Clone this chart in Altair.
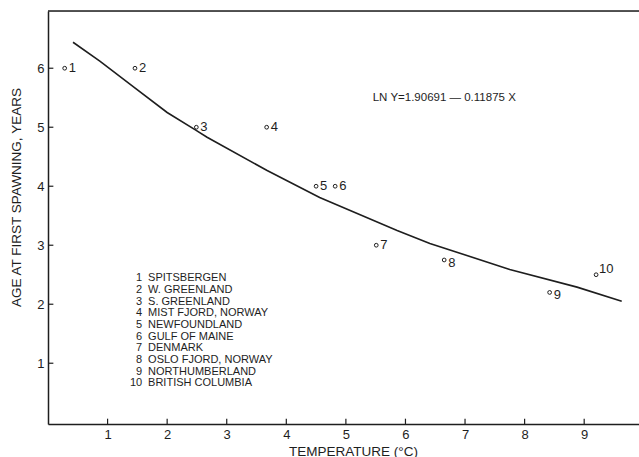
import altair as alt
import pandas as pd

# Sampling sites: number, name, mean temperature (°C), age at first spawning (years)
site_num = [1, 2, 3, 4, 5, 6, 7, 8, 9, 10]
site_name = [
    "SPITSBERGEN", "W. GREENLAND", "S. GREENLAND", "MIST FJORD, NORWAY",
    "NEWFOUNDLAND", "GULF OF MAINE", "DENMARK", "OSLO FJORD, NORWAY",
    "NORTHUMBERLAND", "BRITISH COLUMBIA",
]
temp = [0.28, 1.46, 2.49, 3.67, 4.50, 4.82, 5.51, 6.65, 8.42, 9.20]
age = [6.0, 6.0, 5.0, 5.0, 4.0, 4.0, 3.0, 2.75, 2.2, 2.5]

# Fitted curve, traced along its length
curve_x = [0.42, 0.87, 1.43, 2.0, 2.48, 2.67, 3.67, 4.56, 5.86, 6.41, 7.75, 8.88, 9.63]
curve_y = [6.44, 6.12, 5.69, 5.25, 4.95, 4.83, 4.27, 3.81, 3.25, 3.03, 2.59, 2.29, 2.05]

x_ticks = [1, 2, 3, 4, 5, 6, 7, 8, 9]
y_ticks = [1, 2, 3, 4, 5, 6]

equation = "LN Y=1.90691 \u2014 0.11875 X"

FONT = "Liberation Sans"
INK = "#1e1e1e"
Y0, Y1 = -0.03, 6.97

pts = pd.DataFrame({"num": site_num, "name": site_name, "temp": temp, "age": age})
pts["num_s"] = pts["num"].astype(str)
curve = pd.DataFrame({"t": curve_x, "a": curve_y})

xs = alt.Scale(domain=[0, 9.92], nice=False, zero=False)
ys = alt.Scale(domain=[Y0, Y1], nice=False, zero=False)

x_axis = alt.Axis(values=x_ticks, format="d", grid=False, ticks=False, labelPadding=4,
                  title="TEMPERATURE (\u00b0C)")
y_axis = alt.Axis(values=y_ticks, format="d", grid=False, ticks=False, labelPadding=4,
                  title="AGE AT FIRST SPAWNING, YEARS")

base = alt.Chart(pts)

points = base.mark_point(shape="circle", filled=False, size=14, color=INK, strokeWidth=1,
                         opacity=1).encode(
    x=alt.X("temp:Q", scale=xs, axis=x_axis),
    y=alt.Y("age:Q", scale=ys, axis=y_axis),
)

label_style = dict(font=FONT, fontSize=13, color=INK, align="left", baseline="middle", dx=4)
labels_mid = base.transform_filter("datum.num <= 7").mark_text(**label_style).encode(
    x=alt.X("temp:Q", scale=xs), y=alt.Y("age:Q", scale=ys), text="num_s:N")
labels_low = base.transform_filter("datum.num == 8 || datum.num == 9").mark_text(
    **{**label_style, "dy": 3}).encode(
    x=alt.X("temp:Q", scale=xs), y=alt.Y("age:Q", scale=ys), text="num_s:N")
labels_high = base.transform_filter("datum.num == 10").mark_text(
    **{**label_style, "dy": -6, "dx": 3}).encode(
    x=alt.X("temp:Q", scale=xs), y=alt.Y("age:Q", scale=ys), text="num_s:N")

fit = alt.Chart(curve).mark_line(color=INK, strokeWidth=1.6).encode(
    x=alt.X("t:Q", scale=xs), y=alt.Y("a:Q", scale=ys))

# Top frame line
top = alt.Chart(pd.DataFrame({"v": [Y1]})).mark_rule(color=INK, strokeWidth=1.3).encode(
    y=alt.Y("v:Q", scale=ys))

# Inward ticks on both axes
xt = alt.Chart(pd.DataFrame({"v": x_ticks})).mark_rule(color=INK, strokeWidth=1.2).encode(
    x=alt.X("v:Q", scale=xs), y=alt.datum(Y0), y2=alt.datum(Y0 + 0.09))
yt = alt.Chart(pd.DataFrame({"v": y_ticks})).mark_rule(color=INK, strokeWidth=1.2).encode(
    y=alt.Y("v:Q", scale=ys), x=alt.datum(0), x2=alt.datum(0.09))

# Key to site numbers
key = pts.copy()
key["ky"] = 2.44 - (key["num"] - 1) * 0.198
key_num = alt.Chart(key).mark_text(font=FONT, fontSize=11, color=INK, align="right",
                                   baseline="middle").encode(
    x=alt.datum(1.58), y=alt.Y("ky:Q", scale=ys), text="num_s:N")
key_name = alt.Chart(key).mark_text(font=FONT, fontSize=11, color=INK, align="left",
                                    baseline="middle").encode(
    x=alt.datum(1.68), y=alt.Y("ky:Q", scale=ys), text="name:N")

eq = alt.Chart(pd.DataFrame({"t": [equation]})).mark_text(
    font=FONT, fontSize=11.5, color=INK, align="left", baseline="middle").encode(
    x=alt.datum(5.45), y=alt.datum(5.5), text="t:N")

chart = alt.layer(points, top, xt, yt, fit, labels_mid, labels_low, labels_high,
                  key_num, key_name, eq).properties(
    width=591, height=413,
    autosize=alt.AutoSizeParams(type="none"),
    padding={"left": 48, "top": 11, "right": 0, "bottom": 33},
).configure_view(stroke=None).configure(background="white").configure_axis(
    labelFont=FONT, labelFontSize=13, labelColor=INK,
    titleFont=FONT, titleFontSize=13.5, titleFontWeight="normal", titleColor=INK,
    domainColor=INK, domainWidth=1.5,
).configure_axisLeft(
    titleX=-32, titleY=186, titleAlign="center", titleBaseline="middle", titleAngle=270,
).configure_axisBottom(
    titleX=305, titlePadding=3,
)

chart.save("out.html", embed_options={"renderer": "svg", "actions": False})
